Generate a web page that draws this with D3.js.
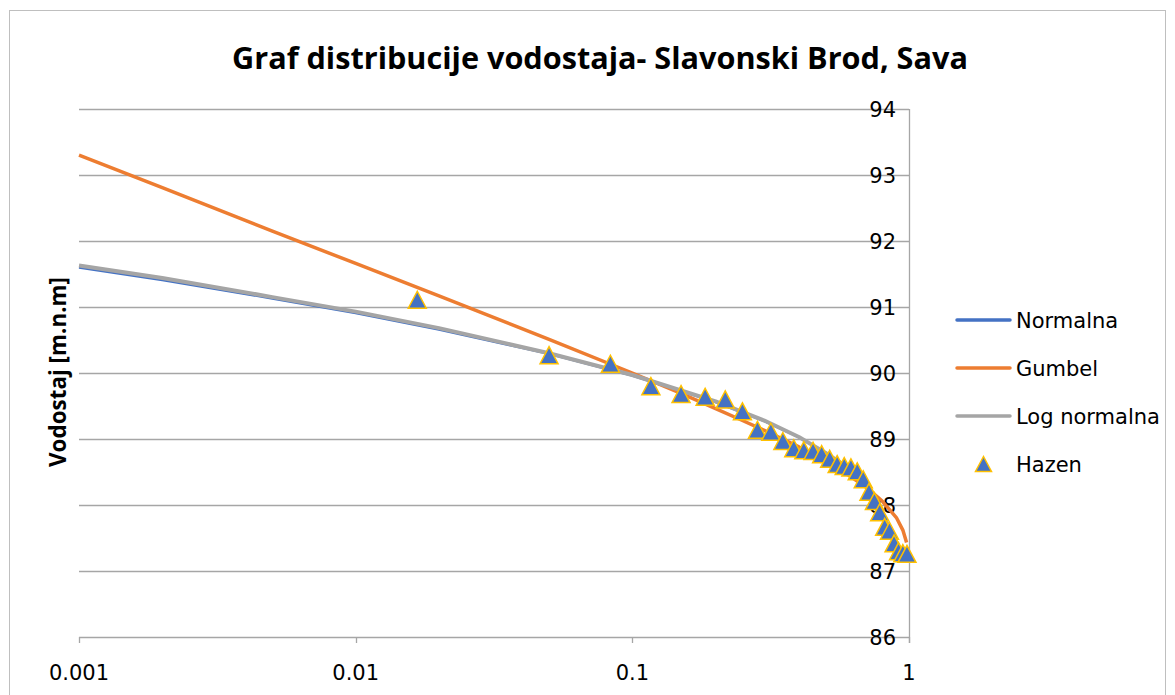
<!DOCTYPE html>
<html>
<head>
<meta charset="utf-8">
<script src="https://cdn.jsdelivr.net/npm/d3@7"></script>
<style>
  html, body { margin: 0; padding: 0; background: #fff; }
  svg { display: block; }
</style>
</head>
<body>
<svg id="chart" width="1175" height="695"></svg>
<script>
// ---------- DATA ----------
const titleText = "Graf distribucije vodostaja- Slavonski Brod, Sava";
const yAxisTitle = "Vodostaj [m.n.m]";
const seriesNames = ["Normalna", "Gumbel", "Log normalna", "Hazen"];

const xTicks = [0.001, 0.01, 0.1, 1];
const xTickLabels = ["0.001", "0.01", "0.1", "1"];
const yTicks = [86, 87, 88, 89, 90, 91, 92, 93, 94];

// probabilities used for the fitted normal / log-normal curves
const curveP = [0.001, 0.002, 0.005, 0.01, 0.02, 0.05, 0.1, 0.2, 0.3, 0.4, 0.5, 0.6, 0.7, 0.8, 0.9];
const normalnaY = [91.60, 91.41, 91.13, 90.91, 90.66, 90.29, 89.96, 89.56, 89.27, 89.03, 88.78, 88.56, 88.30, 87.86, 87.45];
const logNormalnaY = [91.63, 91.44, 91.15, 90.93, 90.68, 90.30, 89.97, 89.57, 89.28, 89.03, 88.79, 88.57, 88.31, 87.87, 87.46];

const gumbelP = [0.001, 0.002, 0.005, 0.01, 0.02, 0.05, 0.1, 0.15, 0.2, 0.25, 0.3, 0.4, 0.5, 0.6, 0.7, 0.8, 0.9, 0.95, 0.98];
const gumbelY = [93.30, 92.81, 92.15, 91.66, 91.17, 90.51, 90.00, 89.69, 89.46, 89.28, 89.13, 88.88, 88.66, 88.46, 88.27, 88.06, 87.81, 87.62, 87.43];

// Hazen plotting positions and observed levels
const hazenP = [0.0167, 0.05, 0.0833, 0.1167, 0.15, 0.1833, 0.2167, 0.25, 0.2833, 0.3167,
                0.35, 0.3833, 0.4167, 0.45, 0.4833, 0.5167, 0.55, 0.5833, 0.6167, 0.65,
                0.6833, 0.7167, 0.75, 0.7833, 0.8167, 0.85, 0.8833, 0.9167, 0.95, 0.9833];
const hazenY = [91.11, 90.27, 90.14, 89.80, 89.68, 89.64, 89.60, 89.42, 89.14, 89.11,
                88.97, 88.86, 88.83, 88.82, 88.77, 88.70, 88.62, 88.59, 88.57, 88.51,
                88.39, 88.20, 88.06, 87.89, 87.67, 87.61, 87.42, 87.30, 87.27, 87.26];

// ---------- STYLE ----------
const colors = { normal: "#4472C4", gumbel: "#ED7D31", logn: "#A5A5A5", hazenFill: "#4472C4", hazenStroke: "#FFC000" };
const font = "'DejaVu Sans', sans-serif";
const boldFont = "'Open Sans', 'DejaVu Sans', sans-serif";

const svg = d3.select("#chart");
const plot = { left: 79, right: 909, top: 109, bottom: 637 };

const x = d3.scaleLog().domain([0.001, 1]).range([plot.left, plot.right]);
const y = d3.scaleLinear().domain([86, 94]).range([plot.bottom, plot.top]);

// chart border
svg.append("rect")
  .attr("x", 9.5).attr("y", 10.5).attr("width", 1156).attr("height", 690)
  .attr("fill", "none").attr("stroke", "#BFBFBF").attr("stroke-width", 1);

// title
const title = svg.append("text")
  .attr("x", 600).attr("y", 69)
  .attr("text-anchor", "middle")
  .attr("font-family", boldFont).attr("font-weight", "bold")
  .attr("font-size", 28).attr("fill", "#000")
  .text(titleText);
{
  const w = title.node().getComputedTextLength();
  title.attr("font-size", 28 * 736 / w);
}

// gridlines
svg.append("g").selectAll("line").data(yTicks).join("line")
  .attr("x1", plot.left).attr("x2", plot.right)
  .attr("y1", d => Math.round(y(d)) + 0.5).attr("y2", d => Math.round(y(d)) + 0.5)
  .attr("stroke", "#A6A6A6").attr("stroke-width", 1.3);

// right-side y axis line
svg.append("line")
  .attr("x1", plot.right + 0.5).attr("x2", plot.right + 0.5)
  .attr("y1", plot.top).attr("y2", plot.bottom + 6)
  .attr("stroke", "#A6A6A6").attr("stroke-width", 1.3);

// x axis ticks
svg.append("g").selectAll("line").data(xTicks).join("line")
  .attr("x1", d => Math.round(x(d)) + 0.5).attr("x2", d => Math.round(x(d)) + 0.5)
  .attr("y1", plot.bottom).attr("y2", plot.bottom + 6)
  .attr("stroke", "#A6A6A6").attr("stroke-width", 1.3);

// y tick labels (left of right axis)
svg.append("g").selectAll("text").data(yTicks).join("text")
  .attr("x", 896).attr("y", d => y(d))
  .attr("dy", "0.36em")
  .attr("text-anchor", "end")
  .attr("font-family", font).attr("font-size", 21).attr("fill", "#000")
  .text(d => d);

// x tick labels
svg.append("g").selectAll("text").data(xTicks).join("text")
  .attr("x", d => x(d)).attr("y", 672)
  .attr("dy", "0.36em")
  .attr("text-anchor", "middle")
  .attr("font-family", font).attr("font-size", 21).attr("fill", "#000")
  .text((d, i) => xTickLabels[i]);

// y axis title
const yt = svg.append("text")
  .attr("transform", "translate(58,372) rotate(-90)")
  .attr("text-anchor", "middle").attr("dy", "0.35em")
  .attr("font-family", boldFont).attr("font-weight", "bold")
  .attr("font-size", 20).attr("fill", "#000")
  .text(yAxisTitle);
{
  const w = yt.node().getComputedTextLength();
  yt.attr("font-size", 20 * 190 / w);
}

// lines
const line = d3.line().x(d => x(d[0])).y(d => y(d[1]));
const normalData = d3.zip(curveP, normalnaY);
const gumbelData = d3.zip(gumbelP, gumbelY);
const lognData = d3.zip(curveP, logNormalnaY);

svg.append("path").datum(normalData).attr("d", line)
  .attr("fill", "none").attr("stroke", colors.normal).attr("stroke-width", 2.5)
  .attr("stroke-linejoin", "round");
svg.append("path").datum(gumbelData).attr("d", line)
  .attr("fill", "none").attr("stroke", colors.gumbel).attr("stroke-width", 3.5)
  .attr("stroke-linejoin", "round");
svg.append("path").datum(lognData).attr("d", line)
  .attr("fill", "none").attr("stroke", colors.logn).attr("stroke-width", 4)
  .attr("stroke-linejoin", "round");

// Hazen markers (triangles)
const tri = "M0,-8.5L9,8.5L-9,8.5Z";
svg.append("g").selectAll("path").data(d3.zip(hazenP, hazenY)).join("path")
  .attr("transform", d => `translate(${x(d[0])},${y(d[1])})`)
  .attr("d", tri)
  .attr("fill", colors.hazenFill).attr("stroke", colors.hazenStroke)
  .attr("stroke-width", 1.5).attr("stroke-linejoin", "miter");

// legend
const legendRows = [320, 368, 416, 464];
const legend = svg.append("g");
const legendColors = [colors.normal, colors.gumbel, colors.logn];
seriesNames.forEach((name, i) => {
  const ly = legendRows[i];
  if (i < 3) {
    legend.append("line")
      .attr("x1", 957).attr("x2", 1010).attr("y1", ly).attr("y2", ly)
      .attr("stroke", legendColors[i]).attr("stroke-width", 3.5)
      .attr("stroke-linecap", "round");
  } else {
    legend.append("path")
      .attr("transform", `translate(983.5,${ly})`)
      .attr("d", "M0,-7.5L8,7.5L-8,7.5Z")
      .attr("fill", colors.hazenFill).attr("stroke", colors.hazenStroke)
      .attr("stroke-width", 1.5);
  }
  legend.append("text")
    .attr("x", 1016).attr("y", ly).attr("dy", "0.36em")
    .attr("font-family", font).attr("font-size", 21).attr("fill", "#000")
    .text(name);
});
</script>
</body>
</html>
